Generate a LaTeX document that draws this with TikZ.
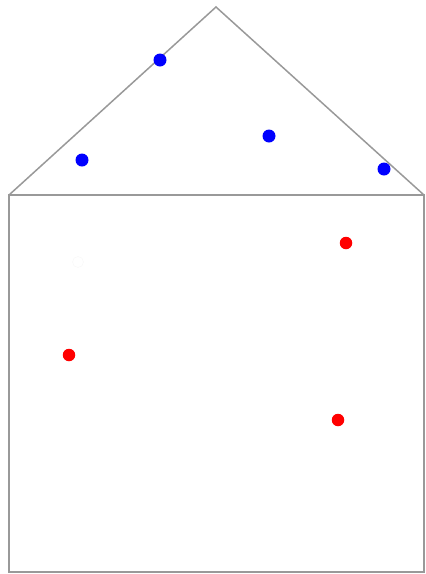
\documentclass[tikz,border=0pt]{standalone}
\begin{document}
\begin{tikzpicture}[x=1pt,y=-1pt,
  wall/.style={draw=black!40,line width=1.5pt,line join=miter},
  bluedot/.style={circle,fill=blue,inner sep=0pt,minimum size=13pt},
  reddot/.style={circle,fill=red,inner sep=0pt,minimum size=12.5pt},
  whitedot/.style={circle,fill=white,draw=black!3,line width=0.4pt,inner sep=0pt,minimum size=11pt}]
\useasboundingbox (0,0) rectangle (426,574);
\coordinate (bl) at (9,572);
\coordinate (br) at (424,572);
\coordinate (tl) at (9,195);
\coordinate (tr) at (424,195);
\coordinate (apex) at (216,7);
\draw[wall] (tl) -- (tr) -- (br) -- (bl) -- cycle;
\draw[wall] (tl) -- (apex) -- (tr);
\node[bluedot] (b1) at (160,60) {};
\node[bluedot] (b2) at (82,160) {};
\node[bluedot] (b3) at (269,136) {};
\node[bluedot] (b4) at (384,169) {};
\node[reddot] (r1) at (346,243) {};
\node[reddot] (r2) at (69,355) {};
\node[reddot] (r3) at (338,420) {};
\node[whitedot] (w1) at (78,262) {};
\end{tikzpicture}
\end{document}
